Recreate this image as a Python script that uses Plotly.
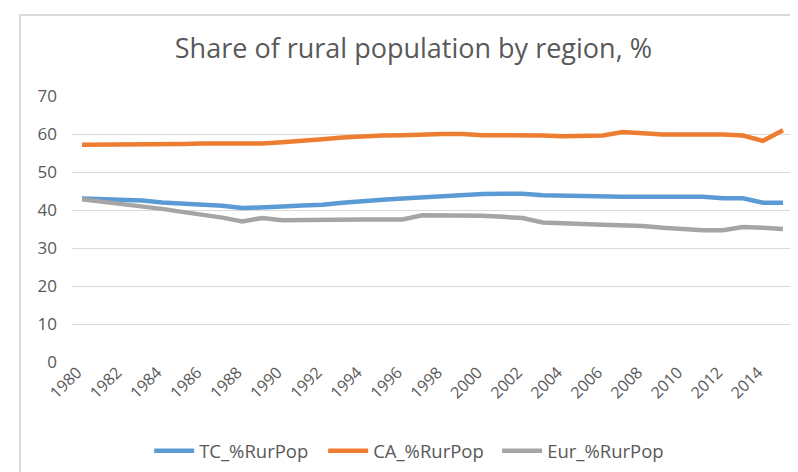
import plotly.graph_objects as go

years = [str(y) for y in range(1980, 2016)]

tc_rurpop = [43.0, 42.8, 42.5, 42.5, 42.0, 41.7, 41.4, 41.1, 40.5, 40.6,
             40.9, 41.2, 41.4, 41.9, 42.4, 42.7, 43.0, 43.3, 43.8, 43.9,
             44.2, 44.3, 44.3, 43.9, 43.8, 43.5, 43.5, 43.5, 43.5, 43.5,
             43.5, 43.5, 43.1, 43.1, 41.9, 41.9]

ca_rurpop = [57.2, 57.2, 57.2, 57.2, 57.4, 57.4, 57.5, 57.5, 57.5, 57.5,
             57.8, 58.1, 58.6, 59.1, 59.4, 59.6, 59.7, 59.9, 60.0, 60.0,
             59.7, 59.7, 59.7, 59.6, 59.4, 59.4, 59.6, 60.5, 60.2, 59.9,
             59.9, 59.9, 59.9, 59.6, 58.2, 61.0]

eur_rurpop = [42.8, 42.2, 41.5, 40.8, 40.3, 39.5, 38.8, 38.0, 37.0, 37.9,
              37.3, 37.4, 37.5, 37.5, 37.5, 37.5, 37.5, 38.6, 38.6, 38.6,
              38.5, 38.2, 37.9, 36.7, 36.6, 36.3, 36.1, 35.9, 35.8, 35.3,
              35.0, 34.7, 34.7, 35.5, 35.3, 35.0]

y_ticks = [0, 10, 20, 30, 40, 50, 60, 70]
x_ticks = years[::2]

series = [
    ("TC_%RurPop", tc_rurpop, "#5B9BD5"),
    ("CA_%RurPop", ca_rurpop, "#ED7D31"),
    ("Eur_%RurPop", eur_rurpop, "#A5A5A5"),
]

fig = go.Figure()
for name, vals, color in series:
    fig.add_trace(go.Scatter(
        x=years, y=vals, name=name, mode="lines",
        line=dict(color=color, width=4.5),
    ))

font_family = "Open Sans, Lato, sans-serif"
fig.update_layout(
    width=798, height=472,
    margin=dict(l=64, r=13, t=88, b=118, autoexpand=False),
    paper_bgcolor="white", plot_bgcolor="white",
    font=dict(family=font_family, color="#595959", size=16),
    title=dict(text="Share of rural population by region, %",
               x=0.508, xanchor="center", y=0.915, yanchor="middle",
               font=dict(size=27, color="#595959", family=font_family)),
    xaxis=dict(
        type="category", categoryarray=years, range=[-0.5, len(years) - 0.5],
        tickmode="array", tickvals=x_ticks, ticktext=x_ticks,
        tickangle=-45, showgrid=False, zeroline=False, showline=False,
        ticks="", tickfont=dict(size=16, color="#595959"), automargin=False,
        ticklabelshift=-5, ticklabelstandoff=-3,
    ),
    yaxis=dict(
        range=[0, 70], tickvals=y_ticks, showgrid=True, gridcolor="#D9D9D9",
        gridwidth=1.3, zeroline=False, showline=False, ticks="",
        tickfont=dict(size=17, color="#595959"), ticklabelstandoff=14,
        automargin=False,
    ),
    legend=dict(orientation="h", x=0.469, xanchor="center", y=-0.335,
                yanchor="middle", font=dict(size=18.5, color="#595959"),
                itemwidth=40, entrywidth=119, entrywidthmode="pixels"),
    showlegend=True,
    shapes=[dict(type="rect", xref="paper", yref="paper",
                 x0=-0.0721, x1=1.03, y0=-0.5, y1=1.3045,
                 line=dict(color="#D9D9D9", width=2), layer="below")],
)

fig.write_html("out.html")
